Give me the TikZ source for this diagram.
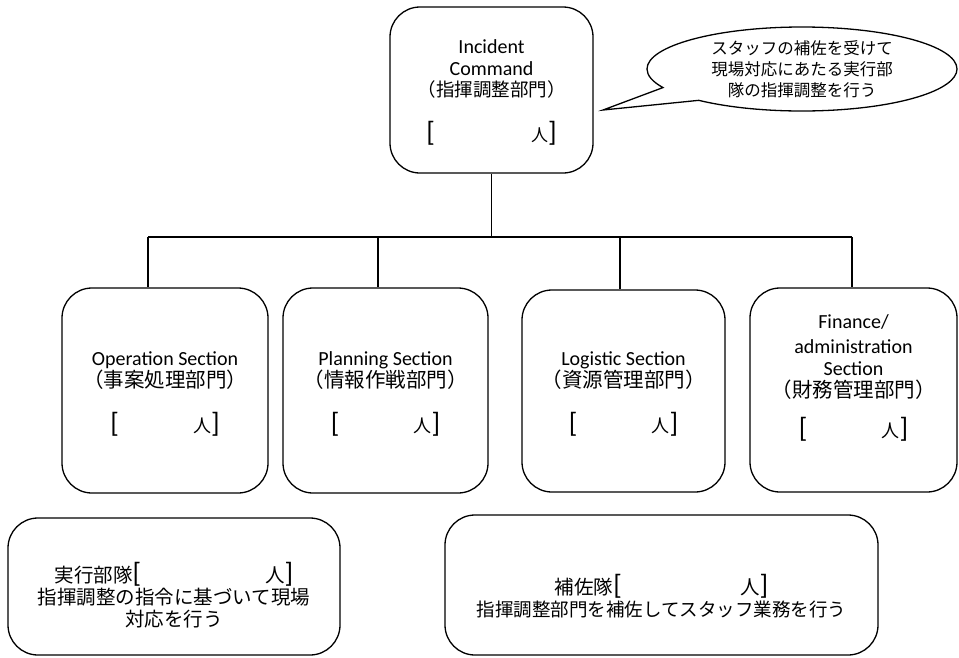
\documentclass[tikz,border=0pt]{standalone}
\usepackage{fontspec}
\setmainfont{Carlito}
\newfontfamily\jp{Noto Sans CJK JP}
\usetikzlibrary{shapes.callouts}
\newcommand{\br}[1]{{\rmfamily\fontsize{28}{28}\selectfont #1}}
\newcommand{\ninzu}[2]{\br{[}\hspace{#1}{\jp\fontsize{#2}{#2}\selectfont 人}\br{]}}
\newcommand{\upstrut}[1]{\rule{0pt}{#1}}
\newcommand{\downstrut}[1]{\rule[-#1]{0pt}{0pt}}
\begin{document}
\begin{tikzpicture}[x=1pt,y=-1pt,
  box/.style={draw, line width=1.3pt, rounded corners=30pt, align=center, inner sep=0pt,
              font=\fontsize{20}{22}\selectfont},
  link/.style={line width=1.3pt},
  jpbox/.style={box, font=\jp\fontsize{19.5}{22}\selectfont}
]
\useasboundingbox (0,0) rectangle (959,657);

% top node
\node[box, minimum width=203pt, minimum height=166pt] (cmd) at (491.5,90)
  {\upstrut{18pt}Incident\\Command\\[-1pt]{\jp\fontsize{18.5}{22}\selectfont （指揮調整部門）}\\[22pt]\ninzu{96pt}{17}};

% callout
\coordinate (tip) at (603,110);
\node[ellipse callout, draw, line width=1.3pt, minimum width=310pt, minimum height=84pt,
      inner sep=0pt, callout absolute pointer={(tip)}, callout pointer arc=22,
      align=center, font=\jp\fontsize{16.5}{21}\selectfont] (note) at (802,69)
  {スタッフの補佐を受けて\\現場対応にあたる実行部\\隊の指揮調整を行う};

% sections
\node[box, minimum width=206pt, minimum height=205pt] (op) at (165,390.5)
  {\upstrut{20pt}Operation Section\\{\jp\fontsize{20.5}{22}\selectfont （事案処理部門）}\\[22pt]\ninzu{74pt}{18}};
\node[box, minimum width=205pt, minimum height=205pt] (plan) at (385.5,390.5)
  {\upstrut{20pt}Planning Section\\{\jp\fontsize{20.5}{22}\selectfont （情報作戦部門）}\\[22pt]\ninzu{74pt}{18}};
\node[box, minimum width=203pt, minimum height=202pt] (log) at (623.5,391)
  {\upstrut{20pt}Logistic Section\\{\jp\fontsize{20.5}{22}\selectfont （資源管理部門）}\\[22pt]\ninzu{74pt}{18}};
\node[box, minimum width=207pt, minimum height=204pt] (fin) at (853.5,390)
  {Finance/\\[3pt]administration\\Section\\{\jp\fontsize{20.5}{22}\selectfont （財務管理部門）}\\[17pt]\ninzu{74pt}{18}\downstrut{28pt}};

% bottom boxes
\node[jpbox, minimum width=332pt, minimum height=137pt] (jikko) at (174,586.5)
  {\upstrut{38pt}実行部隊\ninzu{124pt}{19.5}\\指揮調整の指令に基づいて現場\\対応を行う};
\node[jpbox, minimum width=433pt, minimum height=140pt] (hosa) at (661.5,585)
  {\upstrut{42pt}補佐隊\ninzu{118pt}{19.5}\\{\fontsize{18.5}{22}\selectfont 指揮調整部門を補佐してスタッフ業務を行う}};

% connectors
\coordinate (b1) at (148,237);
\coordinate (b2) at (378,237);
\coordinate (b3) at (620,237);
\coordinate (b4) at (852,237);
\draw[link] (cmd.south) -- (cmd.south |- b1);
\draw[link] (b1) -- (b4);
\draw[link] (b1) -- (b1 |- op.north);
\draw[link] (b2) -- (b2 |- plan.north);
\draw[link] (b3) -- (b3 |- log.north);
\draw[link] (b4) -- (b4 |- fin.north);
\end{tikzpicture}
\end{document}
